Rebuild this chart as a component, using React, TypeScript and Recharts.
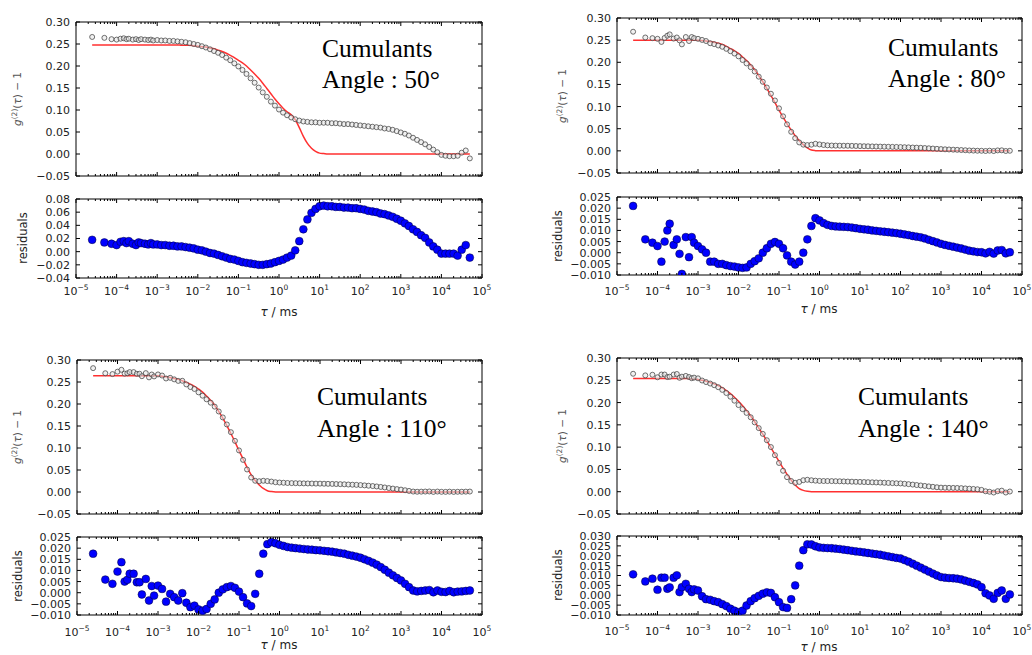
import React from 'react';
import { ComposedChart, Scatter, Line, XAxis, YAxis, ReferenceArea } from 'recharts';

// ---------- shared lag times (ms) ----------
const TAU = [
  2.5e-5, 5e-5, 7.5e-5, 1e-4, 1.25e-4, 1.5e-4, 1.75e-4, 2e-4, 2.5e-4, 3e-4, 3.5e-4, 4e-4, 5e-4, 6e-4, 7e-4, 8e-4,
  1e-3, 1.26e-3, 1.58e-3, 2e-3, 2.51e-3, 3.16e-3, 3.98e-3, 5.01e-3, 6.31e-3, 7.94e-3,
  1e-2, 1.26e-2, 1.58e-2, 2e-2, 2.51e-2, 3.16e-2, 3.98e-2, 5.01e-2, 6.31e-2, 7.94e-2,
  0.1, 0.126, 0.158, 0.2, 0.251, 0.316, 0.398, 0.501, 0.631, 0.794,
  1, 1.26, 1.58, 2, 2.51, 3.16, 3.98, 5.01, 6.31, 7.94,
  10, 12.6, 15.8, 20, 25.1, 31.6, 39.8, 50.1, 63.1, 79.4,
  100, 126, 158, 200, 251, 316, 398, 501, 631, 794,
  1000, 1260, 1580, 2000, 2510, 3160, 3980, 5010, 6310, 7940,
  10000, 12600, 15800, 20000, 25100, 31600, 39800, 50100,
];

// ---------- Angle 50 ----------
const G50 = [
  0.266, 0.264, 0.261, 0.260, 0.262, 0.263, 0.261, 0.262, 0.260, 0.261, 0.259, 0.261, 0.260, 0.259, 0.260, 0.258,
  0.259, 0.258, 0.258, 0.257, 0.257, 0.256, 0.255, 0.254, 0.252, 0.250,
  0.248, 0.245, 0.242, 0.238, 0.234, 0.230, 0.225, 0.219, 0.213, 0.206,
  0.199, 0.191, 0.182, 0.172, 0.162, 0.151, 0.140, 0.130, 0.119, 0.110,
  0.101, 0.094, 0.088, 0.083, 0.079, 0.076, 0.074, 0.073, 0.072, 0.072,
  0.071, 0.071, 0.071, 0.070, 0.070, 0.069, 0.068, 0.068, 0.067, 0.066,
  0.065, 0.064, 0.063, 0.062, 0.061, 0.060, 0.058, 0.057, 0.055, 0.052,
  0.049, 0.046, 0.042, 0.037, 0.032, 0.027, 0.022, 0.016, 0.010, 0.004,
  -0.002, -0.004, -0.005, -0.005, -0.004, 0.003, 0.008, -0.010,
];
const FIT50 = [
  0.248, 0.248, 0.248, 0.248, 0.248, 0.248, 0.248, 0.248, 0.248, 0.248, 0.248, 0.248, 0.248, 0.248, 0.248, 0.248,
  0.248, 0.248, 0.248, 0.248, 0.248, 0.248, 0.247, 0.247, 0.247, 0.246,
  0.245, 0.244, 0.243, 0.241, 0.239, 0.236, 0.233, 0.229, 0.224, 0.219,
  0.213, 0.207, 0.200, 0.191, 0.182, 0.172, 0.161, 0.149, 0.137, 0.125,
  0.114, 0.104, 0.096, 0.089, 0.078, 0.060, 0.040, 0.024, 0.013, 0.006,
  0.002, 0.001, 0, 0, 0, 0, 0, 0, 0, 0,
  0, 0, 0, 0, 0, 0, 0, 0, 0, 0,
  0, 0, 0, 0, 0, 0, 0, 0, 0, 0,
  0, 0, 0, 0, 0, 0, 0, 0,
];
const RES50 = [
  0.018, 0.014, 0.012, 0.010, 0.015, 0.016, 0.013, 0.016, 0.012, 0.010, 0.014, 0.013, 0.012, 0.011, 0.013, 0.011,
  0.011, 0.010, 0.010, 0.009, 0.009, 0.008, 0.008, 0.007, 0.006, 0.005,
  0.003, 0.002, 0.000, -0.002, -0.003, -0.005, -0.007, -0.009, -0.011, -0.012,
  -0.014, -0.016, -0.017, -0.018, -0.019, -0.020, -0.020, -0.019, -0.018, -0.016,
  -0.014, -0.012, -0.009, -0.006, 0.002, 0.016, 0.034, 0.049, 0.059, 0.065,
  0.069, 0.070, 0.069, 0.069, 0.068, 0.068, 0.067, 0.067, 0.066, 0.066,
  0.065, 0.064, 0.062, 0.061, 0.060, 0.058, 0.057, 0.055, 0.053, 0.050,
  0.047, 0.043, 0.039, 0.034, 0.030, 0.025, 0.021, 0.014, 0.008, 0.003,
  -0.003, -0.003, -0.003, -0.003, -0.006, 0.003, 0.010, -0.009,
];

// ---------- Angle 80 ----------
const G80 = [
  0.269, 0.256, 0.2545, 0.253, 0.246, 0.255, 0.260, 0.263, 0.2535, 0.256, 0.2495, 0.2405, 0.257, 0.248, 0.257, 0.2545,
  0.253, 0.2505, 0.248, 0.243, 0.241, 0.238, 0.235, 0.2304, 0.225, 0.2198,
  0.2134, 0.2052, 0.1974, 0.189, 0.1792, 0.1675, 0.156, 0.143, 0.129, 0.1138,
  0.096, 0.078, 0.0598, 0.043, 0.0287, 0.019, 0.014, 0.013, 0.014, 0.016,
  0.0145, 0.0133, 0.0125, 0.012, 0.0118, 0.0117, 0.0116, 0.0115, 0.0113, 0.011,
  0.0107, 0.0105, 0.0103, 0.010, 0.0098, 0.0096, 0.0094, 0.0092, 0.009, 0.0088,
  0.0085, 0.0082, 0.0079, 0.0075, 0.0072, 0.0069, 0.0064, 0.0058, 0.0052, 0.0046,
  0.004, 0.0035, 0.0031, 0.0027, 0.0023, 0.0019, 0.0014, 0.0009, 0.0006, 0.0003,
  0.0002, -0.0003, 0.0004, -0.0004, 0.001, 0.0012, -0.0003, 0.0002,
];
const FIT80 = [
  0.25, 0.25, 0.25, 0.25, 0.25, 0.25, 0.25, 0.25, 0.25, 0.25, 0.25, 0.25, 0.25, 0.25, 0.25, 0.25,
  0.25, 0.249, 0.248, 0.247, 0.245, 0.243, 0.240, 0.236, 0.231, 0.226,
  0.220, 0.212, 0.204, 0.194, 0.183, 0.170, 0.156, 0.141, 0.125, 0.109,
  0.092, 0.076, 0.061, 0.047, 0.034, 0.023, 0.014, 0.007, 0.002, 0.0005,
  0, 0, 0, 0, 0, 0, 0, 0, 0, 0,
  0, 0, 0, 0, 0, 0, 0, 0, 0, 0,
  0, 0, 0, 0, 0, 0, 0, 0, 0, 0,
  0, 0, 0, 0, 0, 0, 0, 0, 0, 0,
  0, 0, 0, 0, 0, 0, 0, 0,
];
const RES80 = [
  0.021, 0.006, 0.0045, 0.003, -0.004, 0.005, 0.010, 0.013, 0.0035, 0.006, -0.0005, -0.0095, 0.007, -0.002, 0.007, 0.0045,
  0.003, 0.0015, 0.000, -0.004, -0.004, -0.005, -0.005, -0.0056, -0.006, -0.0062,
  -0.0066, -0.0068, -0.0066, -0.005, -0.0038, -0.0025, 0.0, 0.002, 0.004, 0.0048,
  0.004, 0.002, -0.0012, -0.004, -0.0053, -0.004, 0.0, 0.006, 0.012, 0.0155,
  0.0145, 0.0133, 0.0125, 0.012, 0.0118, 0.0117, 0.0116, 0.0115, 0.0113, 0.011,
  0.0107, 0.0105, 0.0103, 0.010, 0.0098, 0.0096, 0.0094, 0.0092, 0.009, 0.0088,
  0.0085, 0.0082, 0.0079, 0.0075, 0.0072, 0.0069, 0.0064, 0.0058, 0.0052, 0.0046,
  0.004, 0.0035, 0.0031, 0.0027, 0.0023, 0.0019, 0.0014, 0.0009, 0.0006, 0.0003,
  0.0002, -0.0003, 0.0004, -0.0004, 0.001, 0.0012, -0.0003, 0.0002,
];

// ---------- Angle 110 ----------
const G110 = [
  0.2815, 0.2699, 0.268, 0.2735, 0.2777, 0.269, 0.2698, 0.2725, 0.2725, 0.2687, 0.2687, 0.2632, 0.2702, 0.2605, 0.267, 0.2627,
  0.2672, 0.2647, 0.258, 0.2595, 0.256, 0.2525, 0.2528, 0.2445, 0.2385, 0.2342,
  0.2265, 0.2189, 0.2107, 0.203, 0.194, 0.183, 0.1695, 0.1535, 0.136, 0.1162,
  0.0945, 0.073, 0.0512, 0.033, 0.0255, 0.0245, 0.0255, 0.0248, 0.0237, 0.0222,
  0.0215, 0.021, 0.0205, 0.0202, 0.020, 0.0198, 0.0196, 0.0194, 0.0193, 0.0191,
  0.019, 0.0188, 0.0186, 0.0184, 0.0181, 0.0178, 0.0175, 0.017, 0.0166, 0.0162,
  0.0157, 0.015, 0.0143, 0.0135, 0.0126, 0.0115, 0.0103, 0.009, 0.0078, 0.0066,
  0.0055, 0.004, 0.0025, 0.001, 0.0006, 0.0008, 0.001, 0.0012, 0.0002, 0.001,
  0.0004, 0.0003, 0.0008, 0.0002, 0.0005, 0.0006, 0.0008, 0.001,
];
const FIT110 = [
  0.264, 0.264, 0.264, 0.264, 0.264, 0.264, 0.264, 0.264, 0.264, 0.264, 0.264, 0.264, 0.264, 0.264, 0.264, 0.264,
  0.264, 0.263, 0.262, 0.260, 0.258, 0.256, 0.253, 0.249, 0.245, 0.240,
  0.234, 0.227, 0.218, 0.208, 0.197, 0.183, 0.168, 0.151, 0.133, 0.114,
  0.094, 0.075, 0.056, 0.039, 0.026, 0.016, 0.008, 0.003, 0.001, 0,
  0, 0, 0, 0, 0, 0, 0, 0, 0, 0,
  0, 0, 0, 0, 0, 0, 0, 0, 0, 0,
  0, 0, 0, 0, 0, 0, 0, 0, 0, 0,
  0, 0, 0, 0, 0, 0, 0, 0, 0, 0,
  0, 0, 0, 0, 0, 0, 0, 0,
];
const RES110 = [
  0.0175, 0.0059, 0.004, 0.0095, 0.0137, 0.005, 0.0058, 0.0085, 0.0085, 0.0047, 0.0047, -0.0008, 0.0062, -0.0035, 0.003, -0.0013,
  0.0032, 0.0017, -0.004, -0.0005, -0.002, -0.0035, -0.0002, -0.0045, -0.0065, -0.0058,
  -0.0075, -0.0081, -0.0073, -0.005, -0.003, 0.0, 0.0015, 0.0025, 0.003, 0.0022,
  0.0005, -0.002, -0.0048, -0.006, -0.0005, 0.0085, 0.0175, 0.0218, 0.0227, 0.0222,
  0.0215, 0.021, 0.0205, 0.0202, 0.020, 0.0198, 0.0196, 0.0194, 0.0193, 0.0191,
  0.019, 0.0188, 0.0186, 0.0184, 0.0181, 0.0178, 0.0175, 0.017, 0.0166, 0.0162,
  0.0157, 0.015, 0.0143, 0.0135, 0.0126, 0.0115, 0.0103, 0.009, 0.0078, 0.0066,
  0.0055, 0.004, 0.0025, 0.001, 0.0006, 0.0008, 0.001, 0.0012, 0.0002, 0.001,
  0.0004, 0.0003, 0.0008, 0.0002, 0.0005, 0.0006, 0.0008, 0.001,
];

// ---------- Angle 140 ----------
const G140 = [
  0.2646, 0.261, 0.2624, 0.2568, 0.2629, 0.2629, 0.2573, 0.258, 0.2629, 0.2641, 0.2556, 0.2581, 0.2598, 0.2573, 0.2546, 0.256,
  0.2544, 0.2495, 0.246, 0.2427, 0.239, 0.2345, 0.2285, 0.2215, 0.2132, 0.2042,
  0.1944, 0.1852, 0.1768, 0.167, 0.1555, 0.1427, 0.1298, 0.1155, 0.1002, 0.082,
  0.0645, 0.047, 0.0326, 0.024, 0.020, 0.022, 0.0258, 0.0268, 0.0257, 0.0248,
  0.0242, 0.024, 0.0239, 0.0238, 0.0236, 0.0234, 0.0231, 0.0228, 0.0225, 0.0222,
  0.022, 0.0217, 0.0214, 0.0211, 0.0208, 0.0205, 0.0201, 0.0197, 0.0193, 0.0189,
  0.0186, 0.0178, 0.017, 0.016, 0.015, 0.014, 0.013, 0.012, 0.011, 0.010,
  0.0092, 0.0089, 0.0087, 0.0086, 0.0084, 0.008, 0.0074, 0.0068, 0.0062, 0.0055,
  0.0041, 0.001, -0.0001, -0.0018, 0.0012, 0.0024, -0.0018, 0.0004,
];
const FIT140 = [
  0.254, 0.254, 0.254, 0.254, 0.254, 0.254, 0.254, 0.254, 0.254, 0.254, 0.254, 0.254, 0.254, 0.254, 0.253, 0.253,
  0.252, 0.250, 0.248, 0.245, 0.242, 0.238, 0.233, 0.227, 0.220, 0.212,
  0.203, 0.193, 0.182, 0.170, 0.157, 0.143, 0.129, 0.114, 0.099, 0.083,
  0.068, 0.053, 0.039, 0.026, 0.015, 0.007, 0.003, 0.001, 0, 0,
  0, 0, 0, 0, 0, 0, 0, 0, 0, 0,
  0, 0, 0, 0, 0, 0, 0, 0, 0, 0,
  0, 0, 0, 0, 0, 0, 0, 0, 0, 0,
  0, 0, 0, 0, 0, 0, 0, 0, 0, 0,
  0, 0, 0, 0, 0, 0, 0, 0,
];
const RES140 = [
  0.0106, 0.007, 0.0084, 0.0028, 0.0089, 0.0089, 0.0033, 0.004, 0.0089, 0.0101, 0.0016, 0.0041, 0.0058, 0.0033, 0.0016, 0.003,
  0.0024, -0.0005, -0.002, -0.0023, -0.003, -0.0035, -0.0045, -0.0055, -0.0068, -0.0078,
  -0.0086, -0.0078, -0.0052, -0.003, -0.0015, -0.0003, 0.0008, 0.0015, 0.0012, -0.001,
  -0.0035, -0.006, -0.0064, -0.002, 0.005, 0.015, 0.0228, 0.0258, 0.0257, 0.0248,
  0.0242, 0.024, 0.0239, 0.0238, 0.0236, 0.0234, 0.0231, 0.0228, 0.0225, 0.0222,
  0.022, 0.0217, 0.0214, 0.0211, 0.0208, 0.0205, 0.0201, 0.0197, 0.0193, 0.0189,
  0.0186, 0.0178, 0.017, 0.016, 0.015, 0.014, 0.013, 0.012, 0.011, 0.010,
  0.0092, 0.0089, 0.0087, 0.0086, 0.0084, 0.008, 0.0074, 0.0068, 0.0062, 0.0055,
  0.0041, 0.001, -0.0001, -0.0018, 0.0012, 0.0024, -0.0018, 0.0004,
];

// ---------- axes ----------
const X_MAJOR = [1e-5, 1e-4, 1e-3, 1e-2, 1e-1, 1, 10, 100, 1000, 10000, 100000];
const X_EXP = ['\u22125', '\u22124', '\u22123', '\u22122', '\u22121', '0', '1', '2', '3', '4', '5'];
const MINOR_MANT = [2, 3, 4, 5, 6, 7, 8, 9];
const X_TICKS: number[] = [...X_MAJOR];
X_MAJOR.slice(0, 10).forEach((d) => MINOR_MANT.forEach((m) => X_TICKS.push(m * d)));
X_TICKS.sort((a, b) => a - b);

const MAIN_Y_TICKS = [-0.05, 0, 0.05, 0.1, 0.15, 0.2, 0.25, 0.3];
const RES_TICKS_50 = [-0.04, -0.02, 0, 0.02, 0.04, 0.06, 0.08];
const RES_TICKS_025 = [-0.01, -0.005, 0, 0.005, 0.01, 0.015, 0.02, 0.025];
const RES_TICKS_030 = [-0.01, -0.005, 0, 0.005, 0.01, 0.015, 0.02, 0.025, 0.03];

const ANGLES = ['50', '80', '110', '140'];

const TICK_FONT = "'DejaVu Sans', Verdana, sans-serif";

function makeXTick(plotH: number, showLabels: boolean, labelDy: number) {
  return (props: any) => {
    const { x, y, payload } = props;
    const v = payload.value;
    const idx = X_MAJOR.indexOf(v);
    const len = idx >= 0 ? 4 : 2;
    return (
      <g>
        <line x1={x} y1={y} x2={x} y2={y - len} stroke="#000" strokeWidth={1} />
        <line x1={x} y1={y - plotH} x2={x} y2={y - plotH + len} stroke="#000" strokeWidth={1} />
        {showLabels && idx >= 0 ? (
          <text x={x} y={y + labelDy} textAnchor="middle" fontFamily={TICK_FONT} fontSize={11} fill="#222">
            <tspan>10</tspan>
            <tspan dy={-5} fontSize={7.5}>{X_EXP[idx]}</tspan>
          </text>
        ) : null}
      </g>
    );
  };
}

function makeYTick(plotW: number, decimals: number) {
  return (props: any) => {
    const { x, y, payload } = props;
    const v = payload.value;
    const s = (v < 0 ? '\u2212' : '') + Math.abs(v).toFixed(decimals);
    return (
      <g>
        <line x1={x} y1={y} x2={x + 4} y2={y} stroke="#000" strokeWidth={1} />
        <line x1={x + plotW} y1={y} x2={x + plotW - 4} y2={y} stroke="#000" strokeWidth={1} />
        <text x={x - 6} y={y} dy="0.36em" textAnchor="end" fontFamily={TICK_FONT} fontSize={11} fill="#222">
          {s}
        </text>
      </g>
    );
  };
}

const grayDot = (p: any) => (
  <circle cx={p.cx} cy={p.cy} r={2.5} fill="#e6e6e6" fillOpacity={0.55} stroke="#444" strokeOpacity={0.85} strokeWidth={0.9} />
);
const blueDot = (p: any) => (
  <circle cx={p.cx} cy={p.cy} r={3.9} fill="#0000ff" stroke="#000033" strokeWidth={0.5} />
);

type PanelProps = {
  left: number;
  top: number;
  w: number;
  h: number;
  kind: 'main' | 'res';
  data: any[];
  yDomain: [number, number];
  yTicks: number[];
  decimals: number;
  labelDy?: number;
};

function Panel({ left, top, w, h, kind, data, yDomain, yTicks, decimals, labelDy = 18 }: PanelProps) {
  const L = 70;
  const T = 6;
  const R = 20;
  const B = kind === 'res' ? 30 : 6;
  return (
    <div style={{ position: 'absolute', left: left - L, top: top - T }}>
      <ComposedChart width={w + L + R} height={h + T + B} data={data} margin={{ top: T, right: R, bottom: 0, left: 0 }}>
        <XAxis
          dataKey="tau"
          type="number"
          scale="log"
          domain={[1e-5, 1e5]}
          ticks={X_TICKS}
          interval={0}
          allowDataOverflow
          height={B}
          axisLine={false}
          tickLine={false}
          tickSize={0}
          tickMargin={0}
          tick={makeXTick(h, kind === 'res', labelDy)}
        />
        <YAxis
          type="number"
          domain={yDomain}
          ticks={yTicks}
          interval={0}
          allowDataOverflow
          width={L}
          axisLine={false}
          tickLine={false}
          tickSize={0}
          tickMargin={0}
          tick={makeYTick(w, decimals)}
        />
        <ReferenceArea x1={1e-5} x2={1e5} y1={yDomain[0]} y2={yDomain[1]} fill="none" stroke="#000" strokeWidth={1} ifOverflow="visible" />
        {kind === 'main' && <Scatter dataKey="g" shape={grayDot} isAnimationActive={false} />}
        {kind === 'main' && (
          <Line dataKey="fit" stroke="#ff1a1a" strokeOpacity={0.9} strokeWidth={1.5} dot={false} type="monotone" isAnimationActive={false} />
        )}
        {kind === 'res' && <Scatter dataKey="r" shape={blueDot} isAnimationActive={false} />}
      </ComposedChart>
    </div>
  );
}

function rows(g: number[], fit: number[], r: number[]) {
  return TAU.map((t, i) => ({ tau: t, g: g[i], fit: fit[i], r: r[i] }));
}

const D50 = rows(G50, FIT50, RES50);
const D80 = rows(G80, FIT80, RES80);
const D110 = rows(G110, FIT110, RES110);
const D140 = rows(G140, FIT140, RES140);

function GLabel({ cx, cy }: { cx: number; cy: number }) {
  return (
    <text transform={`translate(${cx},${cy}) rotate(-90)`} x={0} y={4} textAnchor="middle" fontFamily={TICK_FONT} fontSize={10.5} fill="#555">
      <tspan fontStyle="italic">g</tspan>
      <tspan dy={-4} fontSize={7.5}>(2)</tspan>
      <tspan dy={4}>(</tspan>
      <tspan fontStyle="italic">{'\u03c4'}</tspan>
      <tspan>{') \u2212 1'}</tspan>
    </text>
  );
}

function ResLabel({ cx, cy }: { cx: number; cy: number }) {
  return (
    <text transform={`translate(${cx},${cy}) rotate(-90)`} x={0} y={4} textAnchor="middle" fontFamily={TICK_FONT} fontSize={11.5} fill="#222">
      residuals
    </text>
  );
}

function TauLabel({ cx, y }: { cx: number; y: number }) {
  return (
    <text x={cx} y={y} textAnchor="middle" fontFamily={TICK_FONT} fontSize={12} fill="#222">
      <tspan fontStyle="italic">{'\u03c4'}</tspan>
      <tspan>{' / ms'}</tspan>
    </text>
  );
}

function Note({ x, y1, y2, angle }: { x: number; y1: number; y2: number; angle: string }) {
  const ff = "'Liberation Serif', 'Times New Roman', serif";
  return (
    <g fontFamily={ff} fontSize={25.5} fill="#000">
      <text x={x} y={y1}>Cumulants</text>
      <text x={x} y={y2}>{`Angle : ${angle}\u00b0`}</text>
    </g>
  );
}

export default function App() {
  return (
    <div style={{ position: 'absolute', left: 0, top: 0, width: 1032, height: 655, background: '#fff', overflow: 'hidden' }}>
      {/* top-left: 50 deg */}
      <Panel left={76} top={22} w={406} h={154} kind="main" data={D50} yDomain={[-0.05, 0.3]} yTicks={MAIN_Y_TICKS} decimals={2} />
      <Panel left={76} top={199} w={406} h={79} kind="res" data={D50} yDomain={[-0.04, 0.08]} yTicks={RES_TICKS_50} decimals={2} labelDy={17} />
      {/* top-right: 80 deg */}
      <Panel left={617} top={18} w={405} h={155} kind="main" data={D80} yDomain={[-0.05, 0.3]} yTicks={MAIN_Y_TICKS} decimals={2} />
      <Panel left={617} top={197} w={405} h={78} kind="res" data={D80} yDomain={[-0.01, 0.025]} yTicks={RES_TICKS_025} decimals={3} labelDy={20} />
      {/* bottom-left: 110 deg */}
      <Panel left={77} top={360} w={405} h={154} kind="main" data={D110} yDomain={[-0.05, 0.3]} yTicks={MAIN_Y_TICKS} decimals={2} />
      <Panel left={77} top={537} w={405} h={78} kind="res" data={D110} yDomain={[-0.01, 0.025]} yTicks={RES_TICKS_025} decimals={3} labelDy={21} />
      {/* bottom-right: 140 deg */}
      <Panel left={617} top={358} w={405} h={156} kind="main" data={D140} yDomain={[-0.05, 0.3]} yTicks={MAIN_Y_TICKS} decimals={2} />
      <Panel left={617} top={536} w={405} h={79} kind="res" data={D140} yDomain={[-0.01, 0.03]} yTicks={RES_TICKS_030} decimals={3} labelDy={20} />

      <svg width={1032} height={655} style={{ position: 'absolute', left: 0, top: 0, pointerEvents: 'none' }}>
        <GLabel cx={17} cy={99} />
        <GLabel cx={562} cy={96} />
        <GLabel cx={17} cy={437} />
        <GLabel cx={562} cy={436} />

        <ResLabel cx={23} cy={238} />
        <ResLabel cx={558} cy={236} />
        <ResLabel cx={18} cy={576} />
        <ResLabel cx={558} cy={575} />

        <TauLabel cx={279} y={316} />
        <TauLabel cx={819} y={312.5} />
        <TauLabel cx={279} y={649} />
        <TauLabel cx={819} y={651} />

        <Note x={322} y1={57} y2={88} angle={ANGLES[0]} />
        <Note x={888} y1={56} y2={87} angle={ANGLES[1]} />
        <Note x={317} y1={405} y2={437} angle={ANGLES[2]} />
        <Note x={858} y1={405} y2={437} angle={ANGLES[3]} />
      </svg>
    </div>
  );
}
